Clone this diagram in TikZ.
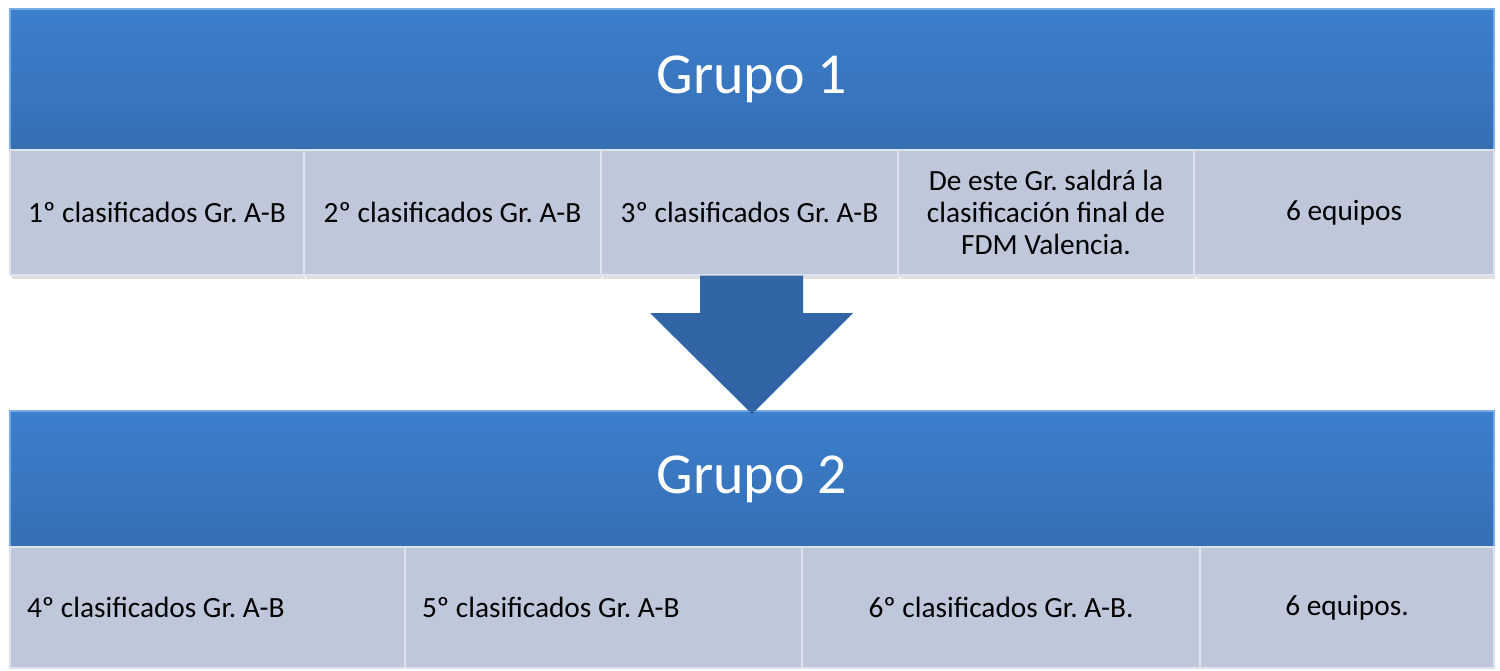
\documentclass[tikz,border=0pt]{standalone}
\usepackage{fontspec}
\setmainfont{Carlito}
\usetikzlibrary{shadows}
\frenchspacing

\definecolor{hdrtop}{RGB}{60,127,205}
\definecolor{hdrbot}{RGB}{53,111,179}
\definecolor{hdredge}{RGB}{120,170,230}
\definecolor{cellfill}{RGB}{191,200,219}
\definecolor{celledge}{RGB}{222,228,238}
\definecolor{arrowblue}{RGB}{50,101,166}

\tikzset{
    header/.style={
        rectangle,
        draw=hdredge,
        line width=0.8pt,
        top color=hdrtop,
        bottom color=hdrbot,
        text=white,
        font=\fontsize{33}{39}\selectfont,
        minimum width=29.68cm,
        inner sep=0pt
    },
    cell/.style={
        rectangle,
        draw=celledge,
        line width=0.8pt,
        fill=cellfill,
        text=black,
        font=\fontsize{16.7}{18.2}\selectfont,
        align=center,
        inner sep=0pt
    },
    cellleft/.style={
        cell,
        align=flush left,
        inner xsep=0.34cm
    }
}

\begin{document}
\begin{tikzpicture}[x=0.02cm, y=-0.02cm]
    \useasboundingbox (0, 0) rectangle (1500, 670);

    % first group
    \node[header, minimum height=2.82cm] (grupouno) at (752, 79.5) {Grupo 1};

    \node[cell, minimum width=5.88cm, minimum height=2.5cm,
        drop shadow={opacity=0.25, shadow xshift=0.03cm, shadow yshift=-0.08cm}]
        (primero) at (157, 212.5) {1º clasificados Gr. A-B};
    \node[cell, minimum width=5.94cm, minimum height=2.5cm,
        drop shadow={opacity=0.25, shadow xshift=0.03cm, shadow yshift=-0.08cm}]
        (segundo) at (452.5, 212.5) {2º clasificados Gr. A-B};
    \node[cell, minimum width=5.94cm, minimum height=2.5cm,
        drop shadow={opacity=0.25, shadow xshift=0.03cm, shadow yshift=-0.08cm}]
        (tercero) at (749.5, 212.5) {3º clasificados Gr. A-B};
    \node[cell, minimum width=5.92cm, minimum height=2.5cm,
        drop shadow={opacity=0.25, shadow xshift=0.03cm, shadow yshift=-0.08cm}]
        (final) at (1046, 212.5) {De este Gr. saldrá la\\clasificación final de\\FDM Valencia.};
    \node[cell, minimum width=6.0cm, minimum height=2.5cm,
        drop shadow={opacity=0.25, shadow xshift=0.03cm, shadow yshift=-0.08cm}]
        (equiposuno) at (1344, 212.5) {6 equipos};

    % second group
    \node[header, minimum height=2.72cm] (grupodos) at (752, 479) {Grupo 2};

    \node[cellleft, text width=7.22cm, minimum height=2.42cm]
        (cuarto) at (207.5, 607.5) {4º clasificados Gr. A-B};
    \node[cellleft, text width=7.26cm, minimum height=2.42cm]
        (quinto) at (603.5, 607.5) {5º clasificados Gr. A-B};
    \node[cell, minimum width=7.96cm, minimum height=2.42cm]
        (sexto) at (1001, 607.5) {6º clasificados Gr. A-B.};
    \node[cell, minimum width=5.88cm, minimum height=2.42cm]
        (equiposdos) at (1347, 607.5) {6 equipos.};

    % block arrow between the groups
    \coordinate (punta) at (752, 414);
    \fill[arrowblue]
        (tercero.south -| 700, 0) -- (tercero.south -| 803, 0)
        -- (803, 313) -- (853, 313) -- (punta) -- (650, 313) -- (700, 313) -- cycle;

\end{tikzpicture}
\end{document}
